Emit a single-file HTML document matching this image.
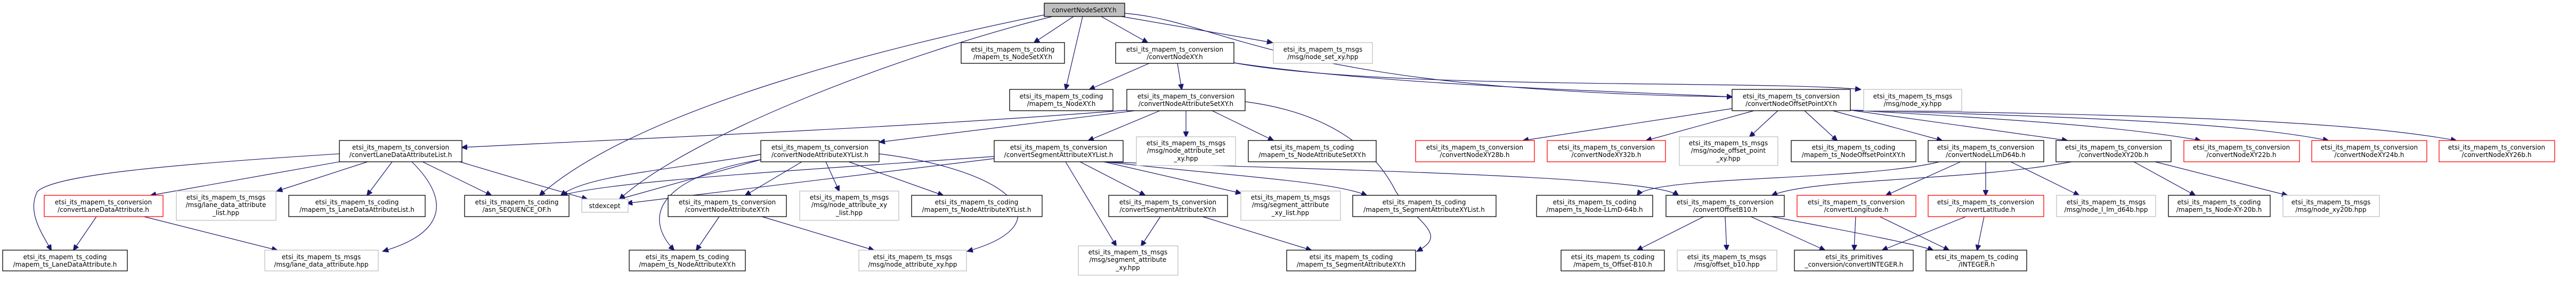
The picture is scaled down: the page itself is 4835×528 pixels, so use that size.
<!DOCTYPE html>
<html><head><meta charset="utf-8">
<style>
html,body{margin:0;padding:0;background:#fff;}
svg{display:block;}
text{font-family:"DejaVu Sans","Liberation Sans",sans-serif;font-size:12px;fill:#000;text-anchor:middle;}
.k{fill:#fff;stroke:#000;stroke-width:1.3;}
.g{fill:#fff;stroke:#bfbfbf;stroke-width:1.3;}
.r{fill:#fff;stroke:#ff0000;stroke-width:1.3;}
.t{fill:#bfbfbf;stroke:#000;stroke-width:1.3;}
path{fill:none;stroke:#191970;stroke-width:1.2;}
</style></head><body>
<svg width="4835" height="528" viewBox="0 0 4835 528" xmlns="http://www.w3.org/2000/svg">
<defs><marker id="a" markerUnits="userSpaceOnUse" markerWidth="12" markerHeight="10" refX="10" refY="5" orient="auto"><path d="M0,0 L11,5 L0,10 z" style="fill:#191970;stroke:#191970;stroke-width:1"/></marker></defs>
<g marker-end="url(#a)">
<path d="M2015,31 L1941,80"/>
<path d="M2067,31 L2154,80"/>
<path d="M2105,31 L2388,80"/>
<path d="M2032,31 L2000,168"/>
<path d="M1960,28 C1700,80 1200,200 1013,367"/>
<path d="M1975,31 C1700,100 1300,250 1163,374"/>
<path d="M2111,25 C2300,40 2400,170 3251,182"/>
<path d="M2157,119 L2045,168"/>
<path d="M2210,119 L2218,168"/>
<path d="M2316,118 C2600,160 3000,170 3251,182"/>
<path d="M2316,118 C2600,170 3300,150 3492,168"/>
<path d="M2115,207 C1700,240 1200,260 867,277"/>
<path d="M2130,208 L1651,267"/>
<path d="M2177,208 L2043,264"/>
<path d="M2226,208 L2226,257"/>
<path d="M2275,208 L2390,264"/>
<path d="M2337,191 C2520,215 2590,300 2620,360 C2660,420 2720,440 2660,472"/>
<path d="M3251,204 L2859,264"/>
<path d="M3292,208 L3090,264"/>
<path d="M3337,208 L3284,257"/>
<path d="M3387,208 L3448,264"/>
<path d="M3440,208 L3645,264"/>
<path d="M3473,207 L3880,264"/>
<path d="M3473,207 C3800,225 4000,240 4130,264"/>
<path d="M3473,207 C3900,220 4200,230 4370,264"/>
<path d="M3473,207 C4000,215 4400,225 4610,264"/>
<path d="M3640,304 C3500,340 3100,330 3073,367"/>
<path d="M3680,304 L3540,367"/>
<path d="M3727,304 L3727,367"/>
<path d="M3774,304 L3902,367"/>
<path d="M3888,304 C3700,340 3400,335 3326,367"/>
<path d="M4005,304 L4120,367"/>
<path d="M4045,304 L4293,367"/>
<path d="M1428,290 C1250,320 1100,330 1053,367"/>
<path d="M1866,294 C1500,320 1150,340 1055,367"/>
<path d="M1428,300 L1163,374"/>
<path d="M1866,298 L1177,382"/>
<path d="M793,304 L922,367"/>
<path d="M863,304 C950,330 1050,360 1102,374"/>
<path d="M637,304 L283,367"/>
<path d="M690,304 L520,359"/>
<path d="M736,304 L689,367"/>
<path d="M773,304 C850,380 830,440 719,472"/>
<path d="M637,289 C300,310 100,330 70,360 C50,400 80,440 96,470"/>
<path d="M181,407 L138,470"/>
<path d="M270,407 L520,470"/>
<path d="M1505,304 L1399,367"/>
<path d="M1550,304 L1575,359"/>
<path d="M1593,304 L1770,367"/>
<path d="M1650,289 C1900,320 2000,420 1816,472"/>
<path d="M1428,300 C1250,330 1200,400 1265,470"/>
<path d="M1350,407 L1307,470"/>
<path d="M1430,407 L1640,470"/>
<path d="M2027,304 L2149,367"/>
<path d="M2072,304 L2329,363"/>
<path d="M2075,304 C2300,330 2500,340 2565,367"/>
<path d="M2000,304 L2095,462"/>
<path d="M2070,304 C2500,320 3100,330 3150,367"/>
<path d="M2178,407 L2142,462"/>
<path d="M2257,407 L2461,470"/>
<path d="M3198,407 L3073,470"/>
<path d="M3238,407 L3241,470"/>
<path d="M3286,407 L3425,470"/>
<path d="M3325,407 C3500,440 3600,460 3628,470"/>
<path d="M3483,407 L3480,470"/>
<path d="M3528,407 L3658,470"/>
<path d="M3690,407 L3533,470"/>
<path d="M3724,407 L3711,470"/>
</g>

<rect class="t" x="1960" y="6" width="151" height="25"/><text x="2035" y="23">convertNodeSetXY.h</text>

<rect class="k" x="1804" y="80" width="194" height="39"/><text x="1901" y="97">etsi_its_mapem_ts_coding</text><text x="1901" y="111">/mapem_ts_NodeSetXY.h</text>
<rect class="k" x="2094" y="80" width="222" height="39"/><text x="2205" y="97">etsi_its_mapem_ts_conversion</text><text x="2205" y="111">/convertNodeXY.h</text>
<rect class="g" x="2390" y="80" width="186" height="39"/><text x="2483" y="97">etsi_its_mapem_ts_msgs</text><text x="2483" y="111">/msg/node_set_xy.hpp</text>

<rect class="k" x="1895" y="168" width="194" height="40"/><text x="1992" y="185">etsi_its_mapem_ts_coding</text><text x="1992" y="199">/mapem_ts_NodeXY.h</text>
<rect class="k" x="2115" y="168" width="222" height="40"/><text x="2226" y="185">etsi_its_mapem_ts_conversion</text><text x="2226" y="199">/convertNodeAttributeSetXY.h</text>
<rect class="k" x="3251" y="168" width="222" height="40"/><text x="3362" y="185">etsi_its_mapem_ts_conversion</text><text x="3362" y="199">/convertNodeOffsetPointXY.h</text>
<rect class="g" x="3498" y="168" width="184" height="40"/><text x="3590" y="185">etsi_its_mapem_ts_msgs</text><text x="3590" y="199">/msg/node_xy.hpp</text>

<rect class="k" x="637" y="264" width="230" height="40"/><text x="752" y="281">etsi_its_mapem_ts_conversion</text><text x="752" y="295">/convertLaneDataAttributeList.h</text>
<rect class="k" x="1428" y="264" width="222" height="40"/><text x="1539" y="281">etsi_its_mapem_ts_conversion</text><text x="1539" y="295">/convertNodeAttributeXYList.h</text>
<rect class="k" x="1866" y="264" width="242" height="40"/><text x="1987" y="281">etsi_its_mapem_ts_conversion</text><text x="1987" y="295">/convertSegmentAttributeXYList.h</text>
<rect class="g" x="2133" y="257" width="186" height="54"/><text x="2226" y="273">etsi_its_mapem_ts_msgs</text><text x="2226" y="287">/msg/node_attribute_set</text><text x="2226" y="302">_xy.hpp</text>
<rect class="k" x="2343" y="264" width="240" height="40"/><text x="2463" y="281">etsi_its_mapem_ts_coding</text><text x="2463" y="295">/mapem_ts_NodeAttributeSetXY.h</text>
<rect class="r" x="2657" y="264" width="223" height="40"/><text x="2768" y="281">etsi_its_mapem_ts_conversion</text><text x="2768" y="295">/convertNodeXY28b.h</text>
<rect class="r" x="2904" y="264" width="222" height="40"/><text x="3015" y="281">etsi_its_mapem_ts_conversion</text><text x="3015" y="295">/convertNodeXY32b.h</text>
<rect class="g" x="3152" y="257" width="185" height="54"/><text x="3244" y="273">etsi_its_mapem_ts_msgs</text><text x="3244" y="287">/msg/node_offset_point</text><text x="3244" y="302">_xy.hpp</text>
<rect class="k" x="3362" y="264" width="234" height="40"/><text x="3479" y="281">etsi_its_mapem_ts_coding</text><text x="3479" y="295">/mapem_ts_NodeOffsetPointXY.h</text>
<rect class="k" x="3619" y="264" width="217" height="40"/><text x="3727" y="281">etsi_its_mapem_ts_conversion</text><text x="3727" y="295">/convertNodeLLmD64b.h</text>
<rect class="k" x="3859" y="264" width="216" height="40"/><text x="3967" y="281">etsi_its_mapem_ts_conversion</text><text x="3967" y="295">/convertNodeXY20b.h</text>
<rect class="r" x="4099" y="264" width="217" height="40"/><text x="4207" y="281">etsi_its_mapem_ts_conversion</text><text x="4207" y="295">/convertNodeXY22b.h</text>
<rect class="r" x="4339" y="264" width="216" height="40"/><text x="4447" y="281">etsi_its_mapem_ts_conversion</text><text x="4447" y="295">/convertNodeXY24b.h</text>
<rect class="r" x="4578" y="264" width="217" height="40"/><text x="4686" y="281">etsi_its_mapem_ts_conversion</text><text x="4686" y="295">/convertNodeXY26b.h</text>

<rect class="r" x="83" y="367" width="223" height="40"/><text x="194" y="384">etsi_its_mapem_ts_conversion</text><text x="194" y="398">/convertLaneDataAttribute.h</text>
<rect class="g" x="331" y="359" width="187" height="55"/><text x="424" y="375">etsi_its_mapem_ts_msgs</text><text x="424" y="389">/msg/lane_data_attribute</text><text x="424" y="404">_list.hpp</text>
<rect class="k" x="542" y="367" width="256" height="40"/><text x="670" y="384">etsi_its_mapem_ts_coding</text><text x="670" y="398">/mapem_ts_LaneDataAttributeList.h</text>
<rect class="k" x="872" y="367" width="196" height="40"/><text x="970" y="384">etsi_its_mapem_ts_coding</text><text x="970" y="398">/asn_SEQUENCE_OF.h</text>
<rect class="g" x="1092" y="374" width="87" height="25"/><text x="1135" y="391">stdexcept</text>
<rect class="k" x="1254" y="367" width="222" height="40"/><text x="1365" y="384">etsi_its_mapem_ts_conversion</text><text x="1365" y="398">/convertNodeAttributeXY.h</text>
<rect class="g" x="1501" y="359" width="186" height="55"/><text x="1594" y="375">etsi_its_mapem_ts_msgs</text><text x="1594" y="389">/msg/node_attribute_xy</text><text x="1594" y="404">_list.hpp</text>
<rect class="k" x="1711" y="367" width="245" height="40"/><text x="1833" y="384">etsi_its_mapem_ts_coding</text><text x="1833" y="398">/mapem_ts_NodeAttributeXYList.h</text>
<rect class="k" x="2081" y="367" width="223" height="40"/><text x="2192" y="384">etsi_its_mapem_ts_conversion</text><text x="2192" y="398">/convertSegmentAttributeXY.h</text>
<rect class="g" x="2329" y="359" width="187" height="55"/><text x="2422" y="375">etsi_its_mapem_ts_msgs</text><text x="2422" y="389">/msg/segment_attribute</text><text x="2422" y="404">_xy_list.hpp</text>
<rect class="k" x="2539" y="367" width="269" height="40"/><text x="2673" y="384">etsi_its_mapem_ts_coding</text><text x="2673" y="398">/mapem_ts_SegmentAttributeXYList.h</text>
<rect class="k" x="2884" y="367" width="218" height="40"/><text x="2993" y="384">etsi_its_mapem_ts_coding</text><text x="2993" y="398">/mapem_ts_Node-LLmD-64b.h</text>
<rect class="k" x="3127" y="367" width="222" height="40"/><text x="3238" y="384">etsi_its_mapem_ts_conversion</text><text x="3238" y="398">/convertOffsetB10.h</text>
<rect class="r" x="3373" y="367" width="223" height="40"/><text x="3484" y="384">etsi_its_mapem_ts_conversion</text><text x="3484" y="398">/convertLongitude.h</text>
<rect class="r" x="3619" y="367" width="217" height="40"/><text x="3727" y="384">etsi_its_mapem_ts_conversion</text><text x="3727" y="398">/convertLatitude.h</text>
<rect class="g" x="3860" y="367" width="186" height="40"/><text x="3953" y="384">etsi_its_mapem_ts_msgs</text><text x="3953" y="398">/msg/node_l_lm_d64b.hpp</text>
<rect class="k" x="4070" y="367" width="191" height="40"/><text x="4165" y="384">etsi_its_mapem_ts_coding</text><text x="4165" y="398">/mapem_ts_Node-XY-20b.h</text>
<rect class="g" x="4285" y="367" width="181" height="40"/><text x="4375" y="384">etsi_its_mapem_ts_msgs</text><text x="4375" y="398">/msg/node_xy20b.hpp</text>

<rect class="k" x="5" y="470" width="234" height="39"/><text x="122" y="487">etsi_its_mapem_ts_coding</text><text x="122" y="501">/mapem_ts_LaneDataAttribute.h</text>
<rect class="g" x="497" y="470" width="213" height="39"/><text x="603" y="487">etsi_its_mapem_ts_msgs</text><text x="603" y="501">/msg/lane_data_attribute.hpp</text>
<rect class="k" x="1181" y="470" width="218" height="39"/><text x="1290" y="487">etsi_its_mapem_ts_coding</text><text x="1290" y="501">/mapem_ts_NodeAttributeXY.h</text>
<rect class="g" x="1612" y="470" width="202" height="39"/><text x="1713" y="487">etsi_its_mapem_ts_msgs</text><text x="1713" y="501">/msg/node_attribute_xy.hpp</text>
<rect class="g" x="2024" y="462" width="187" height="55"/><text x="2117" y="478">etsi_its_mapem_ts_msgs</text><text x="2117" y="492">/msg/segment_attribute</text><text x="2117" y="507">_xy.hpp</text>
<rect class="k" x="2415" y="470" width="242" height="39"/><text x="2536" y="487">etsi_its_mapem_ts_coding</text><text x="2536" y="501">/mapem_ts_SegmentAttributeXY.h</text>
<rect class="k" x="2930" y="470" width="194" height="39"/><text x="3027" y="487">etsi_its_mapem_ts_coding</text><text x="3027" y="501">/mapem_ts_Offset-B10.h</text>
<rect class="g" x="3148" y="470" width="187" height="39"/><text x="3241" y="487">etsi_its_mapem_ts_msgs</text><text x="3241" y="501">/msg/offset_b10.hpp</text>
<rect class="k" x="3368" y="470" width="223" height="39"/><text x="3480" y="487">etsi_its_primitives</text><text x="3480" y="501">_conversion/convertINTEGER.h</text>
<rect class="k" x="3615" y="470" width="189" height="39"/><text x="3710" y="487">etsi_its_mapem_ts_coding</text><text x="3710" y="501">/INTEGER.h</text>
</svg>
</body></html>
